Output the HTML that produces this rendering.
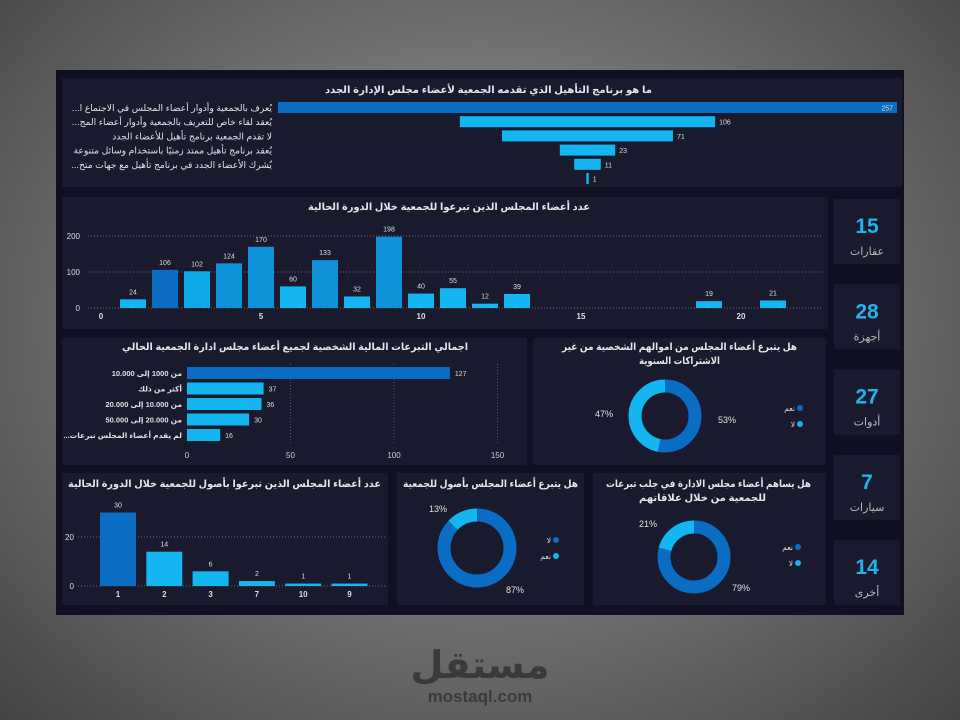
<!DOCTYPE html>
<html><head><meta charset="utf-8"><style>
html,body{margin:0;padding:0;width:960px;height:720px;overflow:hidden}
body{background:radial-gradient(ellipse at 50% 45%,#9a9a9a 0%,#7a7a7a 40%,#444 100%);}
svg text{font-family:"Liberation Sans","DejaVu Sans",sans-serif}
</style></head><body>
<svg id="s" width="960" height="720" xmlns="http://www.w3.org/2000/svg">
<rect x="56" y="70" width="848" height="545" fill="#101023"/>
<rect x="62" y="78" width="840" height="109" fill="#1a1a2e"/>
<rect x="62" y="197" width="766" height="132" fill="#1a1a2e"/>
<rect x="62" y="338" width="465" height="127" fill="#1a1a2e"/>
<rect x="533" y="338" width="293" height="127" fill="#1a1a2e"/>
<rect x="62" y="473" width="326" height="132" fill="#1a1a2e"/>
<rect x="397" y="473" width="187" height="132" fill="#1a1a2e"/>
<rect x="593" y="473" width="233" height="132" fill="#1a1a2e"/>
<g fill="#e6e6e6" font-weight="bold" font-size="10">
<text x="325" y="93" textLength="327" lengthAdjust="spacingAndGlyphs">ما هو برنامج التأهيل الذي تقدمه الجمعية لأعضاء مجلس الإدارة الجدد</text>
<text x="308" y="210" textLength="282" lengthAdjust="spacingAndGlyphs">عدد أعضاء المجلس الذين تبرعوا للجمعية خلال الدورة الحالية</text>
<text x="122" y="350" textLength="346" lengthAdjust="spacingAndGlyphs">اجمالي التبرعات المالية الشخصية لجميع أعضاء مجلس ادارة الجمعية الحالي</text>
<text x="562" y="350" textLength="235" lengthAdjust="spacingAndGlyphs">هل يتبرع أعضاء المجلس من اموالهم الشخصية من غير</text>
<text x="639" y="364" textLength="81" lengthAdjust="spacingAndGlyphs">الاشتراكات السنوية</text>
<text x="68" y="487" textLength="313" lengthAdjust="spacingAndGlyphs">عدد أعضاء المجلس الذين تبرعوا بأصول للجمعية خلال الدورة الحالية</text>
<text x="403" y="487" textLength="175" lengthAdjust="spacingAndGlyphs">هل يتبرع أعضاء المجلس بأصول للجمعية</text>
<text x="606" y="487" textLength="205" lengthAdjust="spacingAndGlyphs">هل يساهم أعضاء مجلس الادارة في جلب تبرعات</text>
<text x="639" y="501" textLength="127" lengthAdjust="spacingAndGlyphs">للجمعية من خلال علاقاتهم</text>
</g>
<g id="g"></g>
<text x="480" y="678" text-anchor="middle" font-size="38" font-weight="bold" fill="#3a3a3a">مستقل</text>
<text x="480" y="702" text-anchor="middle" font-size="17" font-weight="bold" fill="#3a3a3a">mostaql.com</text>
</svg>
<script>
// Funnel data
const funnelLabels=["...يُعرف بالجمعية وأدوار أعضاء المجلس في الاجتماع ا","...يُعقد لقاء خاص للتعريف بالجمعية وأدوار أعضاء المج","لا تقدم الجمعية برنامج تأهيل للأعضاء الجدد","يُعقد برنامج تأهيل ممتد زمنيًا باستخدام وسائل متنوعة","...يُشرك الأعضاء الجدد في برنامج تأهيل مع جهات متخ",""];
const funnelValues=[257,106,71,23,11,1];
// Column chart data
const colX=[1,2,3,4,5,6,7,8,9,10,11,12,13,19,21];
const colValues=[24,106,102,124,170,60,133,32,198,40,55,12,39,19,21];
const colXTicks=[0,5,10,15,20];
const colYTicks=[0,100,200];
// Horizontal bar data
const hbarLabels=["من 1000 إلى 10.000","أكثر من ذلك","من 10.000 إلى 20.000","من 20.000 إلى 50.000","...لم يقدم أعضاء المجلس تبرعات"];
const hbarValues=[127,37,36,30,16];
const hbarTicks=[0,50,100,150];
// Assets chart data
const assetCats=["1","2","3","7","10","9"];
const assetValues=[30,14,6,2,1,1];
const assetYTicks=[0,20];
// Donuts
const donut1=[53,47];
const donut2=[87,13];
const donut3=[79,21];
// KPIs
const kpiValues=[15,28,27,7,14];
const kpiLabels=["عقارات","أجهزة","أدوات","سيارات","أخرى"];

const NS="http://www.w3.org/2000/svg",G=document.getElementById('g');
function mk(t,a,txt){const e=document.createElementNS(NS,t);for(const k in a)e.setAttribute(k,a[k]);if(txt!==undefined)e.textContent=txt;G.appendChild(e);return e;}
const DARK="#0b6cc3",MED="#0e93da",LIGHT="#13b6f0";

// funnel
const fx=v=>v*619/257;
funnelValues.forEach((v,i)=>{
 const y=102+i*14.2,w=Math.max(fx(v),2);
 const r=mk('rect',{x:587.5-w/2,y:y,width:w,height:11,fill:i==0?DARK:LIGHT});
 
 
 const t=mk('text',{x:i==0?893:587.5+w/2+4,y:y+8.5,'font-size':7,fill:'#ddd','text-anchor':i==0?'end':'start'},v);
 
 
 if(funnelLabels[i]){const l=mk('text',{x:272,y:y+9,'font-size':9.2,fill:'#e0e0e0','text-anchor':'end'},funnelLabels[i]);
 
 }
});

// column chart
const cx=v=>101+v*32,cy=v=>308-v*0.36;
const colColors=[LIGHT,DARK,"#10a9e8",MED,MED,LIGHT,MED,LIGHT,MED,LIGHT,LIGHT,LIGHT,LIGHT,LIGHT,LIGHT];
colYTicks.forEach(t=>{
 const l=mk('line',{x1:88,x2:822,y1:cy(t),y2:cy(t),stroke:'#666','stroke-dasharray':'1,2'});
 
 
 const tx=mk('text',{x:80,y:cy(t)+3,'font-size':8,fill:'#ddd','text-anchor':'end'},t);
 
 
});
colXTicks.forEach(t=>{
 const tx=mk('text',{x:cx(t),y:319,'font-size':8,'font-weight':'bold',fill:'#ddd','text-anchor':'middle'},t);
 
 
});
colValues.forEach((v,i)=>{
 const r=mk('rect',{x:cx(colX[i])-13,y:cy(v),width:26,height:308-cy(v),fill:colColors[i]});
 
 
 const t=mk('text',{x:cx(colX[i]),y:cy(v)-5,'font-size':7,fill:'#ddd','text-anchor':'middle'},v);
 
 
});

// hbar
const hx=v=>187+v*2.07;
hbarTicks.forEach(t=>{
 if(t>0){const l=mk('line',{x1:hx(t),x2:hx(t),y1:364,y2:445,stroke:'#555','stroke-dasharray':'1,2'});
 
 }
 const tx=mk('text',{x:hx(t),y:458,'font-size':8,fill:'#ccc','text-anchor':'middle'},t);
 
 
});
hbarValues.forEach((v,i)=>{
 const y=367+i*15.5;
 const r=mk('rect',{x:hx(0),y:y,width:hx(v)-hx(0),height:12,fill:i==0?DARK:LIGHT});
 
 
 const t=mk('text',{x:hx(v)+5,y:y+9,'font-size':7,fill:'#ddd'},v);
 
 
 const l=mk('text',{x:182,y:y+9,'font-size':7.5,'font-weight':'bold',fill:'#e0e0e0','text-anchor':'end'},hbarLabels[i]);
 
 
});

// assets chart
const ay=v=>586-v*2.45,ax=i=>118+i*46.3;
assetYTicks.forEach(t=>{
 const l=mk('line',{x1:78,x2:385,y1:ay(t),y2:ay(t),stroke:'#666','stroke-dasharray':'1,2'});
 
 
 const tx=mk('text',{x:74,y:ay(t)+3,'font-size':8,fill:'#ddd','text-anchor':'end'},t);
 
 
});
assetValues.forEach((v,i)=>{
 const r=mk('rect',{x:ax(i)-18,y:ay(v),width:36,height:586-ay(v),fill:i==0?DARK:LIGHT});
 
 
 const t=mk('text',{x:ax(i),y:ay(v)-5,'font-size':7,fill:'#ddd','text-anchor':'middle'},v);
 
 
 const c=mk('text',{x:ax(i),y:597,'font-size':8,'font-weight':'bold',fill:'#ddd','text-anchor':'middle'},assetCats[i]);
 
 
});

// donuts
function donut(name,vals,cx0,cy0,r,lbls,legend,lx,ly){
 const C=2*Math.PI*r,tot=vals[0]+vals[1];let off=0;
 vals.forEach((v,i)=>{
  const len=C*v/tot;
  const c=mk('circle',{cx:cx0,cy:cy0,r:r,fill:'none',stroke:i==0?DARK:LIGHT,'stroke-width':13,
   'stroke-dasharray':len+' '+(C-len),'stroke-dashoffset':-off,transform:`rotate(-90 ${cx0} ${cy0})`});
  
  
  off+=len;
 });
 lbls.forEach((p,i)=>{
  const t=mk('text',{x:p[0],y:p[1],'font-size':9,fill:'#e0e0e0','text-anchor':'middle'},vals[i]+'%');
  
  
 });
 legend.forEach((s,i)=>{
  const d=mk('circle',{cx:lx,cy:ly+i*16,r:3,fill:i==0?DARK:LIGHT});
  
  
  const t=mk('text',{x:lx-5,y:ly+i*16+3,'font-size':7.5,fill:'#ddd','text-anchor':'end'},s);
  
  
 });
}
donut('donut1',donut1,665,416,30,[[727,423],[604,417]],['نعم','لا'],800,408);
donut('donut2',donut2,477,548,33,[[515,593],[438,512]],['لا','نعم'],556,540);
donut('donut3',donut3,694,557,30,[[741,591],[648,527]],['نعم','لا'],798,547);

// KPIs
kpiValues.forEach((v,i)=>{
 const y=199+i*85.3;
 const r=mk('rect',{x:834,y:y,width:66,height:65,fill:'#1a1a2e'});
 
 
 const t=mk('text',{x:867,y:y+34,'font-size':21,'font-weight':'bold',fill:'#21b3ec','text-anchor':'middle'},v);
 
 
 const l=mk('text',{x:867,y:y+56,'font-size':11,fill:'#bbb','text-anchor':'middle'},kpiLabels[i]);
 
 
});
</script>
</body></html>
